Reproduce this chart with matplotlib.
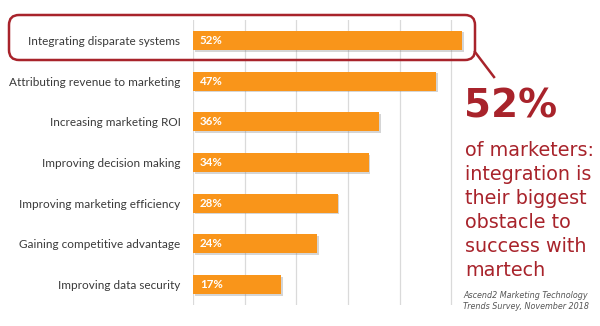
import matplotlib.pyplot as plt
import matplotlib.patheffects as pe
from matplotlib.patches import FancyBboxPatch
from matplotlib.lines import Line2D

# survey data, top to bottom
obstacles = [
    'Integrating disparate systems',
    'Attributing revenue to marketing',
    'Increasing marketing ROI',
    'Improving decision making',
    'Improving marketing efficiency',
    'Gaining competitive advantage',
    'Improving data security',
]
shares = [52, 47, 36, 34, 28, 24, 17]
grid_ticks = [0, 10, 20, 30, 40, 50]

headline = '52%'
callout = 'of marketers:\nintegration is\ntheir biggest\nobstacle to\nsuccess with\nmartech'
source = 'Ascend2 Marketing Technology\nTrends Survey, November 2018'

ORANGE = '#F9951A'
RED = '#A8232B'

W, H = 600, 326
fig = plt.figure(figsize=(W / 100, H / 100), dpi=100)

# axes placed in pixel terms: left edge 193, 1% = 5.17 px
ax_left, ax_top, ax_bot = 193, 20, 305
px_per_pct = 5.17
xmax = 55
ax = fig.add_axes([ax_left / W, 1 - ax_bot / H,
                   xmax * px_per_pct / W, (ax_bot - ax_top) / H])

ypos = list(range(len(obstacles)))
bars = ax.barh(ypos, shares, height=0.47, color=ORANGE, zorder=3)
for b in bars:
    b.set_path_effects([pe.SimplePatchShadow(offset=(1.2, -1.2), shadow_rgbFace='#777777', alpha=0.3),
                        pe.Normal()])

for t in grid_ticks:
    ax.axvline(t, color='#DADADA', lw=0.9, zorder=1)

for y, v in zip(ypos, shares):
    ax.text(1.3, y, f'{v}%', color='white', fontsize=8.3, fontweight='bold',
            va='center', ha='left', family='Lato', zorder=4)

ax.set_xlim(0, xmax)
ax.set_ylim(len(obstacles) - 0.5, -0.5)
ax.set_yticks(ypos)
ax.set_yticklabels(obstacles, fontsize=8.5, color='#3A3A3A', family='Lato')
ax.tick_params(axis='y', length=0, pad=9)
ax.set_xticks([])
for s in ax.spines.values():
    s.set_visible(False)

# highlight frame around the top row and its pointer
box = FancyBboxPatch((0.09, (H - 60) / 100), 4.66, 0.45,
                     boxstyle='round,pad=0,rounding_size=0.1',
                     transform=fig.dpi_scale_trans, fill=False,
                     edgecolor=RED, lw=1.8, zorder=5)
fig.patches.append(box)
fig.add_artist(Line2D([4.75, 4.94], [(H - 52) / 100, (H - 77) / 100],
                      transform=fig.dpi_scale_trans, color=RED, lw=1.8))

fig.text(464 / W, 1 - 87 / H, headline, color=RED, fontsize=28,
         fontweight='bold', va='top', ha='left', family='DejaVu Sans')
fig.text(465 / W, 1 - 141 / H, callout, color=RED, fontsize=13.8,
         va='top', ha='left', linespacing=1.34, family='DejaVu Sans')
fig.text(526 / W, 1 - 291 / H, source, color='#555555', fontsize=5.8,
         style='italic', va='top', ha='center', linespacing=1.25)

fig.savefig('out.png', dpi=100)
